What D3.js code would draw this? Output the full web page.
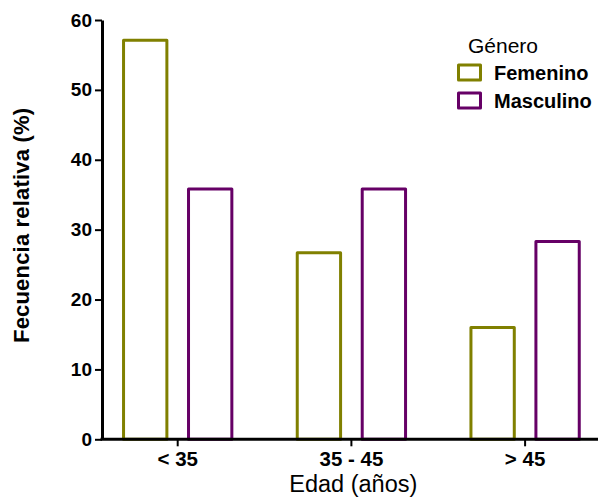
<!DOCTYPE html>
<html><head><meta charset="utf-8">
<script src="https://cdn.jsdelivr.net/npm/d3@7"></script>
<style>
body{margin:0;background:#fff;}
svg{display:block;font-family:"Liberation Sans",Arial,sans-serif;}
</style></head>
<body>
<svg id="chart" width="598" height="497"></svg>
<script>
const categories = ["< 35", "35 - 45", "> 45"];
const series = ["Femenino", "Masculino"];
const femenino = [57.1, 26.7, 16.0];
const masculino = [35.8, 35.8, 28.3];
const yTicks = [0, 10, 20, 30, 40, 50, 60];
const colors = ["#808000", "#660066"];

const svg = d3.select("#chart");
const y = d3.scaleLinear().domain([0, 60]).range([439.3, 20]);
const x0 = d3.scaleBand().domain(categories).range([90.85, 611.95])
  .paddingInner(0.3765).paddingOuter(0.18825);
const x1 = d3.scaleBand().domain(series).range([0, x0.bandwidth()]).paddingInner(0.333);
const color = d3.scaleOrdinal().domain(series).range(colors);

const data = categories.map((c, i) => ({cat: c, vals: [
  {s: series[0], v: femenino[i]}, {s: series[1], v: masculino[i]}]}));

// bars
const g = svg.append("g");
g.selectAll("g.grp").data(data).join("g")
  .attr("transform", d => `translate(${x0(d.cat)},0)`)
  .selectAll("rect").data(d => d.vals).join("rect")
  .attr("x", d => x1(d.s))
  .attr("width", x1.bandwidth())
  .attr("y", d => y(d.v))
  .attr("height", d => y(0) - y(d.v))
  .attr("fill", "#fff")
  .attr("stroke", d => color(d.s))
  .attr("stroke-width", 3)
  .attr("stroke-linejoin", "round");

// y axis
const yAxis = svg.append("g").attr("transform", "translate(102,0)")
  .call(d3.axisLeft(y).tickValues(yTicks).tickSize(7).tickSizeOuter(0).tickPadding(3));
yAxis.select(".domain").attr("stroke", "#000").attr("stroke-width", 3);
yAxis.selectAll(".tick line").attr("stroke", "#000").attr("stroke-width", 2);
yAxis.selectAll(".tick text").attr("font-size", 19).attr("font-weight", "bold")
  .attr("fill", "#000").attr("font-family", "Liberation Sans, Arial, sans-serif");

// x axis
const xAxis = svg.append("g").attr("transform", "translate(0,439.3)")
  .call(d3.axisBottom(x0).tickSize(7).tickSizeOuter(0));
xAxis.select(".domain").attr("d", "M100.5,0H598").attr("stroke", "#000").attr("stroke-width", 3);
xAxis.selectAll(".tick line").attr("stroke", "#000").attr("stroke-width", 2);
xAxis.selectAll(".tick text").attr("font-size", 20.5).attr("font-weight", "bold")
  .attr("y", 26.5).attr("dy", 0)
  .attr("fill", "#000").attr("font-family", "Liberation Sans, Arial, sans-serif");

// axis titles
svg.append("text").attr("x", 353.3).attr("y", 491.5).attr("text-anchor", "middle")
  .attr("font-size", 23.5).attr("fill", "#000").text("Edad (años)");
svg.append("text").attr("transform", "translate(28.5,225.5) rotate(-90)")
  .attr("text-anchor", "middle").attr("font-size", 22).attr("font-weight", "bold")
  .attr("fill", "#000").attr("textLength", 235).attr("lengthAdjust", "spacing")
  .text("Fecuencia relativa (%)");

// legend
const leg = svg.append("g");
leg.append("text").attr("x", 468).attr("y", 52.5).attr("font-size", 21)
  .attr("fill", "#000").text("Género");
series.forEach((s, i) => {
  const cy = 72.5 + i * 28;
  leg.append("rect").attr("x", 458.5).attr("y", cy - 7.5).attr("width", 22).attr("height", 15)
    .attr("fill", "#fff").attr("stroke", color(s)).attr("stroke-width", 3)
    .attr("stroke-linejoin", "round");
  leg.append("text").attr("x", 494).attr("y", cy + 7).attr("font-size", 20)
    .attr("font-weight", "bold").attr("fill", "#000").text(s);
});
</script>
</body></html>
